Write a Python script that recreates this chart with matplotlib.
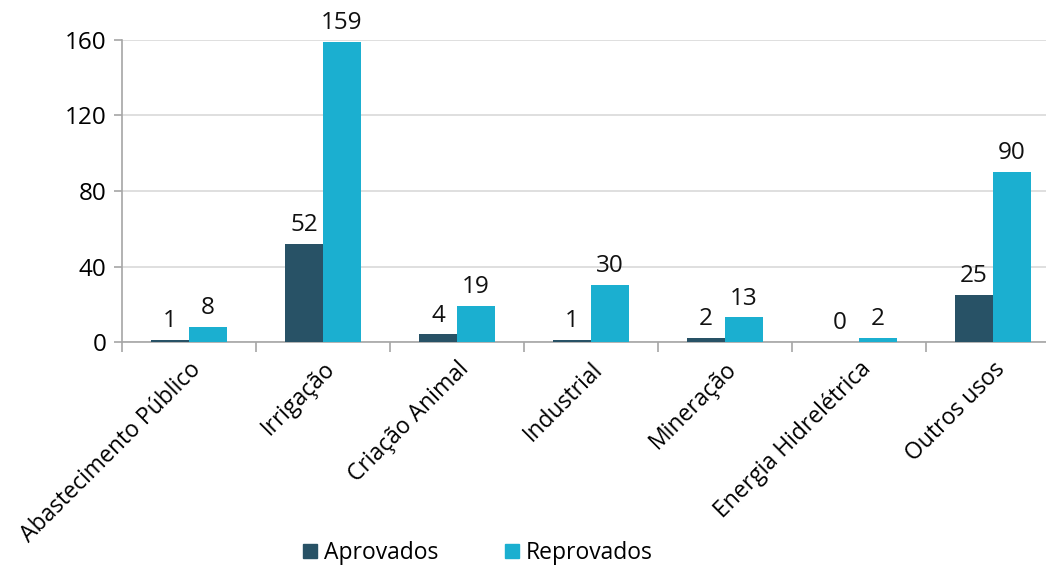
import numpy as np
import matplotlib.pyplot as plt
from matplotlib.patches import Patch

categorias = ["Abastecimento Público", "Irrigação", "Criação Animal", "Industrial",
              "Mineração", "Energia Hidrelétrica", "Outros usos"]
aprovados = [1, 52, 4, 1, 2, 0, 25]
reprovados = [8, 159, 19, 30, 13, 2, 90]
yticks = [0, 40, 80, 120, 160]

cor_aprov = "#285266"
cor_reprov = "#1BAFD0"

plt.rcParams["font.family"] = ["Open Sans", "DejaVu Sans"]

fig = plt.figure(figsize=(10.46, 5.68), dpi=100)
ax = fig.add_axes([122 / 1046, 226 / 568, 938 / 1046, 302 / 568])

x = np.arange(len(categorias))
w = 0.284
b1 = ax.bar(x - w / 2, aprovados, w, color=cor_aprov, zorder=3)
b2 = ax.bar(x + w / 2, reprovados, w, color=cor_reprov, zorder=3)

for bars, vals in ((b1, aprovados), (b2, reprovados)):
    for rect, v in zip(bars, vals):
        ax.annotate(str(v), (rect.get_x() + rect.get_width() / 2, v),
                    xytext=(0, 5), textcoords="offset points",
                    ha="center", va="bottom", fontsize=17.5, color="#111111")

ax.set_xlim(-0.5, len(categorias) - 0.5)
ax.set_ylim(0, 160)
ax.set_yticks(yticks)
ax.yaxis.grid(True, color="#D9D9D9", linewidth=1.2, zorder=0)
ax.set_axisbelow(True)

ax.set_xticks(x)
ax.set_xticklabels(categorias, rotation=45, ha="right", rotation_mode="anchor",
                   fontsize=16.5)
ax.tick_params(axis="x", which="major", length=0, pad=11)
ax.set_xticks(np.arange(len(categorias)) - 0.5, minor=True)
ax.tick_params(axis="x", which="minor", length=7, color="#A6A6A6", width=1.2)
ax.tick_params(axis="y", length=6, color="#A6A6A6", width=1.2, labelsize=17.5, pad=5)

for s in ("top", "right"):
    ax.spines[s].set_visible(False)
for s in ("left", "bottom"):
    ax.spines[s].set_color("#A6A6A6")
    ax.spines[s].set_linewidth(1.2)

handles = [Patch(color=cor_aprov, label="Aprovados"),
           Patch(color=cor_reprov, label="Reprovados")]
fig.legend(handles=handles, loc="center", bbox_to_anchor=(478 / 1046, 1 - 553 / 568),
           ncol=2, frameon=False, fontsize=16.5, handlelength=0.62, handleheight=0.62,
           handletextpad=0.3, columnspacing=2.9)

fig.savefig("out.png", dpi=100)
